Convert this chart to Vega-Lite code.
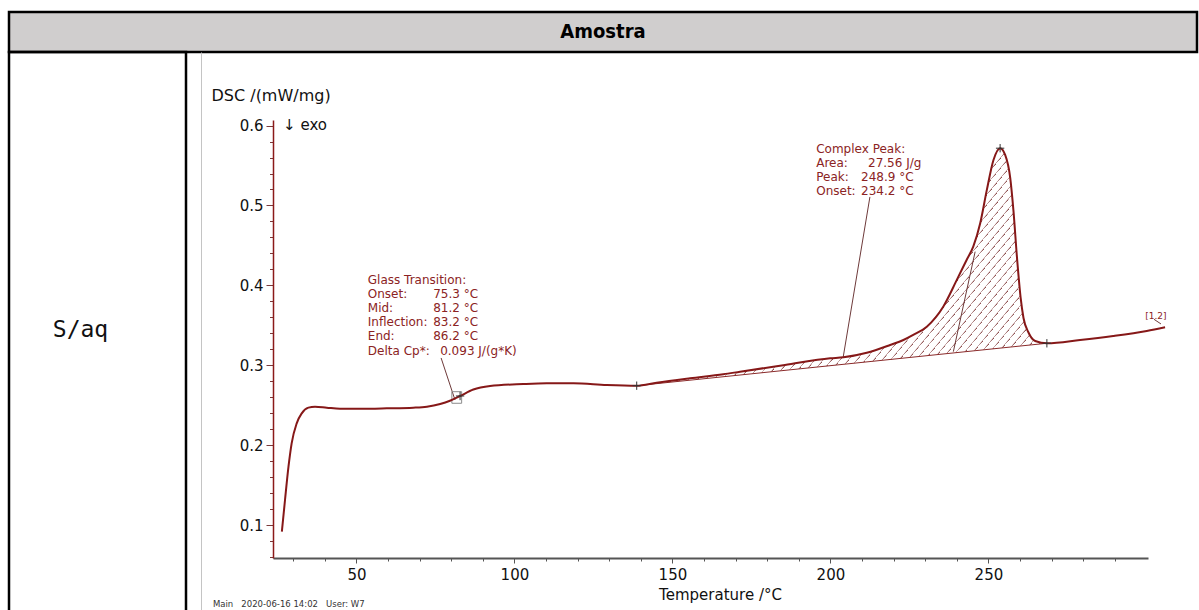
{
  "$schema": "https://vega.github.io/schema/vega-lite/v6.json",
  "padding": {"left": 7, "top": 10, "right": 0, "bottom": 0},
  "background": "white",
  "config": {
    "view": {"stroke": null},
    "font": "DejaVu Sans",
    "concat": {"spacing": 0}
  },
  "datasets": {
    "curve": [
      {"T": 26.4, "v": 0.0916}, {"T": 27.4, "v": 0.1313}, {"T": 28.5, "v": 0.173}, {"T": 29.5, "v": 0.2023},
      {"T": 31.1, "v": 0.2273}, {"T": 32.7, "v": 0.2398}, {"T": 34.8, "v": 0.2469}, {"T": 36.9, "v": 0.2481},
      {"T": 40.6, "v": 0.2469}, {"T": 44.8, "v": 0.2456}, {"T": 51.2, "v": 0.2456}, {"T": 59.6, "v": 0.2461},
      {"T": 68.0, "v": 0.2469}, {"T": 72.3, "v": 0.2481}, {"T": 76.5, "v": 0.2515}, {"T": 79.6, "v": 0.2556},
      {"T": 82.8, "v": 0.2615}, {"T": 87.0, "v": 0.2696}, {"T": 92.3, "v": 0.274}, {"T": 102.8, "v": 0.2765},
      {"T": 110.2, "v": 0.2774}, {"T": 118.7, "v": 0.2774}, {"T": 129.2, "v": 0.2753}, {"T": 138.7, "v": 0.2744},
      {"T": 145.0, "v": 0.2782}, {"T": 155.6, "v": 0.2837}, {"T": 166.1, "v": 0.2887}, {"T": 171.4, "v": 0.2919},
      {"T": 185.6, "v": 0.3003}, {"T": 199.9, "v": 0.3087}, {"T": 204.1, "v": 0.31}, {"T": 211.5, "v": 0.3157},
      {"T": 218.9, "v": 0.3254}, {"T": 223.1, "v": 0.3316}, {"T": 226.2, "v": 0.3379}, {"T": 230.5, "v": 0.3483},
      {"T": 235.7, "v": 0.3733}, {"T": 240.0, "v": 0.4068}, {"T": 243.1, "v": 0.4318}, {"T": 245.2, "v": 0.4485},
      {"T": 247.4, "v": 0.4778}, {"T": 249.5, "v": 0.5195}, {"T": 251.6, "v": 0.557}, {"T": 253.7, "v": 0.5717},
      {"T": 255.3, "v": 0.5633}, {"T": 256.9, "v": 0.5345}, {"T": 257.9, "v": 0.4944}, {"T": 259.1, "v": 0.4318},
      {"T": 260.2, "v": 0.3842}, {"T": 261.1, "v": 0.3592}, {"T": 262.6, "v": 0.3416}, {"T": 264.8, "v": 0.3304},
      {"T": 268.5, "v": 0.3275}, {"T": 279.0, "v": 0.3316}, {"T": 289.5, "v": 0.3366}, {"T": 300.1, "v": 0.3429},
      {"T": 305.9, "v": 0.3475}
    ],
    "hatch": [
      {"T": 138.7, "v": 0.2744, "base": 0.2744}, {"T": 145.0, "v": 0.2782, "base": 0.277},
      {"T": 155.6, "v": 0.2837, "base": 0.2813}, {"T": 166.1, "v": 0.2887, "base": 0.2856},
      {"T": 171.4, "v": 0.2919, "base": 0.2878}, {"T": 185.6, "v": 0.3003, "base": 0.2936},
      {"T": 199.9, "v": 0.3087, "base": 0.2994}, {"T": 204.1, "v": 0.31, "base": 0.3012},
      {"T": 211.5, "v": 0.3157, "base": 0.3042}, {"T": 218.9, "v": 0.3254, "base": 0.3072},
      {"T": 223.1, "v": 0.3316, "base": 0.3089}, {"T": 226.2, "v": 0.3379, "base": 0.3102},
      {"T": 230.5, "v": 0.3483, "base": 0.3119}, {"T": 235.7, "v": 0.3733, "base": 0.3141},
      {"T": 240.0, "v": 0.4068, "base": 0.3158}, {"T": 243.1, "v": 0.4318, "base": 0.3171},
      {"T": 245.2, "v": 0.4485, "base": 0.318}, {"T": 247.4, "v": 0.4778, "base": 0.3189},
      {"T": 249.5, "v": 0.5195, "base": 0.3197}, {"T": 251.6, "v": 0.557, "base": 0.3206},
      {"T": 253.7, "v": 0.5717, "base": 0.3214}, {"T": 255.3, "v": 0.5633, "base": 0.3221},
      {"T": 256.9, "v": 0.5345, "base": 0.3227}, {"T": 257.9, "v": 0.4944, "base": 0.3231},
      {"T": 259.1, "v": 0.4318, "base": 0.3236}, {"T": 260.2, "v": 0.3842, "base": 0.3241},
      {"T": 261.1, "v": 0.3592, "base": 0.3244}, {"T": 262.6, "v": 0.3416, "base": 0.3251},
      {"T": 264.8, "v": 0.3304, "base": 0.326}, {"T": 268.5, "v": 0.3275, "base": 0.3275}
    ],
    "baseline": [{"T": 138.7, "v": 0.2744, "T2": 268.5, "v2": 0.3275}],
    "segments": [
      {"T": 76.8, "v": 0.3091, "T2": 81.2, "v2": 0.2565},
      {"T": 212.5, "v": 0.5107, "T2": 204.0, "v2": 0.3091},
      {"T": 238.9, "v": 0.317, "T2": 245.8, "v2": 0.4422},
      {"T": 302.4, "v": 0.3575, "T2": 304.6, "v2": 0.3517}
    ],
    "box": [{"T": 80.2, "v": 0.2524, "T2": 83.3, "v2": 0.2669}],
    "markers": [
      {"T": 138.7, "v": 0.2744}, {"T": 253.7, "v": 0.5717}, {"T": 268.5, "v": 0.3275}, {"T": 82.8, "v": 0.2615}
    ],
    "annot": [
      {"T": 53.6, "v": 0.4068, "label": "Glass Transition:"},
      {"T": 53.6, "v": 0.3892, "label": "Onset:"},
      {"T": 74.3, "v": 0.3892, "label": "75.3 °C"},
      {"T": 53.6, "v": 0.3717, "label": "Mid:"},
      {"T": 74.3, "v": 0.3717, "label": "81.2 °C"},
      {"T": 53.6, "v": 0.3542, "label": "Inflection:"},
      {"T": 74.3, "v": 0.3542, "label": "83.2 °C"},
      {"T": 53.6, "v": 0.336, "label": "End:"},
      {"T": 74.3, "v": 0.336, "label": "86.2 °C"},
      {"T": 53.6, "v": 0.3179, "label": "Delta Cp*:"},
      {"T": 76.5, "v": 0.3179, "label": "0.093 J/(g*K)"},
      {"T": 195.5, "v": 0.5708, "label": "Complex Peak:"},
      {"T": 195.5, "v": 0.5533, "label": "Area:"},
      {"T": 211.9, "v": 0.5533, "label": "27.56 J/g"},
      {"T": 195.5, "v": 0.5358, "label": "Peak:"},
      {"T": 209.7, "v": 0.5358, "label": "248.9 °C"},
      {"T": 195.5, "v": 0.5183, "label": "Onset:"},
      {"T": 209.7, "v": 0.5183, "label": "234.2 °C"}
    ],
    "exo": [{"T": 26.8, "v": 0.5946, "label": "↓ exo"}],
    "tag": [{"T": 299.6, "v": 0.3617, "label": "[1.2]"}],
    "footer": [{"T": 4.6, "v": -0.0027, "label": "Main\u00a0\u00a0\u00a02020-06-16 14:02\u00a0\u00a0\u00a0User: W7"}]
  },
  "vconcat": [
    {
      "width": 1188,
      "height": 40,
      "view": {"fill": "#d0cece", "stroke": "#000000", "strokeWidth": 2.5},
      "data": {"values": [{"t": "Amostra"}]},
      "mark": {"type": "text", "font": "'Liberation Sans Narrow', 'DejaVu Sans Condensed', 'Liberation Sans', sans-serif", "fontSize": 20, "fontWeight": "bold", "color": "#000000", "baseline": "middle"},
      "encoding": {"text": {"field": "t"}}
    },
    {
      "hconcat": [
        {
          "width": 177,
          "height": 562,
          "view": {"stroke": "#000000", "strokeWidth": 2.5},
          "layer": [
            {
              "data": {"values": [{"t": "S/aq"}]},
              "mark": {"type": "text", "font": "DejaVu Sans Mono", "fontSize": 23, "color": "#111111", "baseline": "middle", "dy": -3, "dx": -17},
              "encoding": {"text": {"field": "t"}}
            },
            {
              "data": {"values": [{"k": 0}]},
              "mark": {"type": "point", "opacity": 0},
              "encoding": {
                "y": {"field": "k", "type": "quantitative", "scale": {"domain": [0, 1]},
                  "axis": {"orient": "right", "offset": 15, "domainColor": "#c4c4c4", "domainWidth": 1, "ticks": false, "labels": false, "title": null, "grid": false}}
              }
            }
          ]
        },
        {
          "vconcat": [
            {
              "width": 875,
              "height": 68,
              "data": {"values": [{"t": ""}]},
              "mark": {"type": "text", "opacity": 0},
              "encoding": {"text": {"field": "t"}}
            },
            {
              "width": 875,
              "height": 438,
              "encoding": {
                "x": {"field": "T", "type": "quantitative", "scale": {"domain": [23.6, 300.5], "nice": false, "zero": false}, "axis": null},
                "y": {"field": "v", "type": "quantitative", "scale": {"domain": [0.0587, 0.607], "nice": false, "zero": false}, "axis": null}
              },
              "layer": [
                {
                  "data": {"name": "hatch"},
                  "mark": {
                    "type": "area",
                    "opacity": 1,
                    "fill": {
                      "gradient": "linear", "x1": 1, "y1": 1, "x2": 0, "y2": 0.516,
                      "stops": [
                        {"offset": 0, "color": "#8b4a4a"}, {"offset": 0.003, "color": "#ffffff"}, {"offset": 0.0166, "color": "#ffffff"},
                        {"offset": 0.0167, "color": "#8b4a4a"}, {"offset": 0.0197, "color": "#ffffff"}, {"offset": 0.0332, "color": "#ffffff"},
                        {"offset": 0.0333, "color": "#8b4a4a"}, {"offset": 0.0363, "color": "#ffffff"}, {"offset": 0.0499, "color": "#ffffff"},
                        {"offset": 0.05, "color": "#8b4a4a"}, {"offset": 0.053, "color": "#ffffff"}, {"offset": 0.0666, "color": "#ffffff"},
                        {"offset": 0.0667, "color": "#8b4a4a"}, {"offset": 0.0697, "color": "#ffffff"}, {"offset": 0.0832, "color": "#ffffff"},
                        {"offset": 0.0833, "color": "#8b4a4a"}, {"offset": 0.0863, "color": "#ffffff"}, {"offset": 0.0999, "color": "#ffffff"},
                        {"offset": 0.1, "color": "#8b4a4a"}, {"offset": 0.103, "color": "#ffffff"}, {"offset": 0.1166, "color": "#ffffff"},
                        {"offset": 0.1167, "color": "#8b4a4a"}, {"offset": 0.1197, "color": "#ffffff"}, {"offset": 0.1332, "color": "#ffffff"},
                        {"offset": 0.1333, "color": "#8b4a4a"}, {"offset": 0.1363, "color": "#ffffff"}, {"offset": 0.1499, "color": "#ffffff"},
                        {"offset": 0.15, "color": "#8b4a4a"}, {"offset": 0.153, "color": "#ffffff"}, {"offset": 0.1666, "color": "#ffffff"},
                        {"offset": 0.1667, "color": "#8b4a4a"}, {"offset": 0.1697, "color": "#ffffff"}, {"offset": 0.1832, "color": "#ffffff"},
                        {"offset": 0.1833, "color": "#8b4a4a"}, {"offset": 0.1863, "color": "#ffffff"}, {"offset": 0.1999, "color": "#ffffff"},
                        {"offset": 0.2, "color": "#8b4a4a"}, {"offset": 0.203, "color": "#ffffff"}, {"offset": 0.2166, "color": "#ffffff"},
                        {"offset": 0.2167, "color": "#8b4a4a"}, {"offset": 0.2197, "color": "#ffffff"}, {"offset": 0.2332, "color": "#ffffff"},
                        {"offset": 0.2333, "color": "#8b4a4a"}, {"offset": 0.2363, "color": "#ffffff"}, {"offset": 0.2499, "color": "#ffffff"},
                        {"offset": 0.25, "color": "#8b4a4a"}, {"offset": 0.253, "color": "#ffffff"}, {"offset": 0.2666, "color": "#ffffff"},
                        {"offset": 0.2667, "color": "#8b4a4a"}, {"offset": 0.2697, "color": "#ffffff"}, {"offset": 0.2832, "color": "#ffffff"},
                        {"offset": 0.2833, "color": "#8b4a4a"}, {"offset": 0.2863, "color": "#ffffff"}, {"offset": 0.2999, "color": "#ffffff"},
                        {"offset": 0.3, "color": "#8b4a4a"}, {"offset": 0.303, "color": "#ffffff"}, {"offset": 0.3166, "color": "#ffffff"},
                        {"offset": 0.3167, "color": "#8b4a4a"}, {"offset": 0.3197, "color": "#ffffff"}, {"offset": 0.3332, "color": "#ffffff"},
                        {"offset": 0.3333, "color": "#8b4a4a"}, {"offset": 0.3363, "color": "#ffffff"}, {"offset": 0.3499, "color": "#ffffff"},
                        {"offset": 0.35, "color": "#8b4a4a"}, {"offset": 0.353, "color": "#ffffff"}, {"offset": 0.3666, "color": "#ffffff"},
                        {"offset": 0.3667, "color": "#8b4a4a"}, {"offset": 0.3697, "color": "#ffffff"}, {"offset": 0.3832, "color": "#ffffff"},
                        {"offset": 0.3833, "color": "#8b4a4a"}, {"offset": 0.3863, "color": "#ffffff"}, {"offset": 0.3999, "color": "#ffffff"},
                        {"offset": 0.4, "color": "#8b4a4a"}, {"offset": 0.403, "color": "#ffffff"}, {"offset": 0.4166, "color": "#ffffff"},
                        {"offset": 0.4167, "color": "#8b4a4a"}, {"offset": 0.4197, "color": "#ffffff"}, {"offset": 0.4332, "color": "#ffffff"},
                        {"offset": 0.4333, "color": "#8b4a4a"}, {"offset": 0.4363, "color": "#ffffff"}, {"offset": 0.4499, "color": "#ffffff"},
                        {"offset": 0.45, "color": "#8b4a4a"}, {"offset": 0.453, "color": "#ffffff"}, {"offset": 0.4666, "color": "#ffffff"},
                        {"offset": 0.4667, "color": "#8b4a4a"}, {"offset": 0.4697, "color": "#ffffff"}, {"offset": 0.4832, "color": "#ffffff"},
                        {"offset": 0.4833, "color": "#8b4a4a"}, {"offset": 0.4863, "color": "#ffffff"}, {"offset": 0.4999, "color": "#ffffff"},
                        {"offset": 0.5, "color": "#8b4a4a"}, {"offset": 0.503, "color": "#ffffff"}, {"offset": 0.5166, "color": "#ffffff"},
                        {"offset": 0.5167, "color": "#8b4a4a"}, {"offset": 0.5197, "color": "#ffffff"}, {"offset": 0.5332, "color": "#ffffff"},
                        {"offset": 0.5333, "color": "#8b4a4a"}, {"offset": 0.5363, "color": "#ffffff"}, {"offset": 0.5499, "color": "#ffffff"},
                        {"offset": 0.55, "color": "#8b4a4a"}, {"offset": 0.553, "color": "#ffffff"}, {"offset": 0.5666, "color": "#ffffff"},
                        {"offset": 0.5667, "color": "#8b4a4a"}, {"offset": 0.5697, "color": "#ffffff"}, {"offset": 0.5832, "color": "#ffffff"},
                        {"offset": 0.5833, "color": "#8b4a4a"}, {"offset": 0.5863, "color": "#ffffff"}, {"offset": 0.5999, "color": "#ffffff"},
                        {"offset": 0.6, "color": "#8b4a4a"}, {"offset": 0.603, "color": "#ffffff"}, {"offset": 0.6166, "color": "#ffffff"},
                        {"offset": 0.6167, "color": "#8b4a4a"}, {"offset": 0.6197, "color": "#ffffff"}, {"offset": 0.6332, "color": "#ffffff"},
                        {"offset": 0.6333, "color": "#8b4a4a"}, {"offset": 0.6363, "color": "#ffffff"}, {"offset": 0.6499, "color": "#ffffff"},
                        {"offset": 0.65, "color": "#8b4a4a"}, {"offset": 0.653, "color": "#ffffff"}, {"offset": 0.6666, "color": "#ffffff"},
                        {"offset": 0.6667, "color": "#8b4a4a"}, {"offset": 0.6697, "color": "#ffffff"}, {"offset": 0.6832, "color": "#ffffff"},
                        {"offset": 0.6833, "color": "#8b4a4a"}, {"offset": 0.6863, "color": "#ffffff"}, {"offset": 0.6999, "color": "#ffffff"},
                        {"offset": 0.7, "color": "#8b4a4a"}, {"offset": 0.703, "color": "#ffffff"}, {"offset": 0.7166, "color": "#ffffff"},
                        {"offset": 0.7167, "color": "#8b4a4a"}, {"offset": 0.7197, "color": "#ffffff"}, {"offset": 0.7332, "color": "#ffffff"},
                        {"offset": 0.7333, "color": "#8b4a4a"}, {"offset": 0.7363, "color": "#ffffff"}, {"offset": 0.7499, "color": "#ffffff"},
                        {"offset": 0.75, "color": "#8b4a4a"}, {"offset": 0.753, "color": "#ffffff"}, {"offset": 0.7666, "color": "#ffffff"},
                        {"offset": 0.7667, "color": "#8b4a4a"}, {"offset": 0.7697, "color": "#ffffff"}, {"offset": 0.7832, "color": "#ffffff"},
                        {"offset": 0.7833, "color": "#8b4a4a"}, {"offset": 0.7863, "color": "#ffffff"}, {"offset": 0.7999, "color": "#ffffff"},
                        {"offset": 0.8, "color": "#8b4a4a"}, {"offset": 0.803, "color": "#ffffff"}, {"offset": 0.8166, "color": "#ffffff"},
                        {"offset": 0.8167, "color": "#8b4a4a"}, {"offset": 0.8197, "color": "#ffffff"}, {"offset": 0.8332, "color": "#ffffff"},
                        {"offset": 0.8333, "color": "#8b4a4a"}, {"offset": 0.8363, "color": "#ffffff"}, {"offset": 0.8499, "color": "#ffffff"},
                        {"offset": 0.85, "color": "#8b4a4a"}, {"offset": 0.853, "color": "#ffffff"}, {"offset": 0.8666, "color": "#ffffff"},
                        {"offset": 0.8667, "color": "#8b4a4a"}, {"offset": 0.8697, "color": "#ffffff"}, {"offset": 0.8832, "color": "#ffffff"},
                        {"offset": 0.8833, "color": "#8b4a4a"}, {"offset": 0.8863, "color": "#ffffff"}, {"offset": 0.8999, "color": "#ffffff"},
                        {"offset": 0.9, "color": "#8b4a4a"}, {"offset": 0.903, "color": "#ffffff"}, {"offset": 0.9166, "color": "#ffffff"},
                        {"offset": 0.9167, "color": "#8b4a4a"}, {"offset": 0.9197, "color": "#ffffff"}, {"offset": 0.9332, "color": "#ffffff"},
                        {"offset": 0.9333, "color": "#8b4a4a"}, {"offset": 0.9363, "color": "#ffffff"}, {"offset": 0.9499, "color": "#ffffff"},
                        {"offset": 0.95, "color": "#8b4a4a"}, {"offset": 0.953, "color": "#ffffff"}, {"offset": 0.9666, "color": "#ffffff"},
                        {"offset": 0.9667, "color": "#8b4a4a"}, {"offset": 0.9697, "color": "#ffffff"}, {"offset": 0.9832, "color": "#ffffff"},
                        {"offset": 0.9833, "color": "#8b4a4a"}, {"offset": 0.9863, "color": "#ffffff"}, {"offset": 0.9999, "color": "#ffffff"},
                        {"offset": 1, "color": "#8b4a4a"}
                      ]
                    }
                  },
                  "encoding": {"y2": {"field": "base"}}
                },
                {
                  "data": {"name": "baseline"},
                  "mark": {"type": "rule", "color": "#8a2a2a", "strokeWidth": 1},
                  "encoding": {
                    "x": {"field": "T", "type": "quantitative", "scale": {"domain": [23.6, 300.5], "nice": false, "zero": false},
                      "axis": {"orient": "bottom", "values": [30, 40, 60, 70, 80, 90, 110, 120, 130, 140, 160, 170, 180, 190, 210, 220, 230, 240, 260, 270, 280, 290], "domain": false, "labels": false, "title": null, "grid": false, "tickSize": 3, "tickColor": "#555555", "tickWidth": 1}},
                    "y": {"field": "v", "type": "quantitative", "scale": {"domain": [0.0587, 0.607], "nice": false, "zero": false},
                      "axis": {"orient": "left", "values": [0.06, 0.08, 0.12, 0.14, 0.16, 0.18, 0.22, 0.24, 0.26, 0.28, 0.32, 0.34, 0.36, 0.38, 0.42, 0.44, 0.46, 0.48, 0.52, 0.54, 0.56, 0.58], "domain": false, "labels": false, "title": null, "grid": false, "tickSize": 3.5, "tickColor": "#7a3a3a", "tickWidth": 1}},
                    "x2": {"field": "T2"},
                    "y2": {"field": "v2"}
                  }
                },
                {
                  "data": {"name": "segments"},
                  "mark": {"type": "rule", "color": "#6e3a3a", "strokeWidth": 1},
                  "encoding": {"x2": {"field": "T2"}, "y2": {"field": "v2"}}
                },
                {
                  "data": {"name": "box"},
                  "mark": {"type": "rect", "filled": false, "stroke": "#8c8c8c", "strokeWidth": 1},
                  "encoding": {"x2": {"field": "T2"}, "y2": {"field": "v2"}}
                },
                {
                  "data": {"name": "curve"},
                  "mark": {"type": "line", "color": "#861818", "strokeWidth": 2, "interpolate": "monotone"},
                  "encoding": {
                    "x": {"field": "T", "type": "quantitative", "scale": {"domain": [23.6, 300.5], "nice": false, "zero": false},
                      "axis": {"orient": "bottom", "values": [50, 100, 150, 200, 250], "title": "Temperature /°C", "grid": false,
                        "domainColor": "#555555", "domainWidth": 2, "tickColor": "#555555", "tickSize": 5, "tickWidth": 1,
                        "labelFont": "DejaVu Sans", "labelFontSize": 15, "labelColor": "#111111", "labelPadding": 4, "labelFlush": false,
                        "titleFont": "DejaVu Sans", "titleFontSize": 15, "titleFontWeight": "normal", "titleColor": "#111111",
                        "titleX": 447, "titleY": 41, "titleAlign": "center", "titleBaseline": "alphabetic"}},
                    "y": {"field": "v", "type": "quantitative", "scale": {"domain": [0.0587, 0.607], "nice": false, "zero": false},
                      "axis": {"orient": "left", "values": [0.1, 0.2, 0.3, 0.4, 0.5, 0.6], "format": ".1f", "title": "DSC /(mW/mg)", "grid": false,
                        "domainColor": "#8b1a1a", "domainWidth": 1.5, "tickColor": "#7a3a3a", "tickSize": 7, "tickWidth": 1,
                        "labelFont": "DejaVu Sans", "labelFontSize": 15, "labelColor": "#111111", "labelPadding": 3,
                        "titleFont": "DejaVu Sans", "titleFontSize": 16, "titleFontWeight": "normal", "titleColor": "#111111",
                        "titleAngle": 0, "titleX": -62, "titleY": -20, "titleAlign": "left", "titleBaseline": "alphabetic"}}
                  }
                },
                {
                  "data": {"name": "markers"},
                  "mark": {"type": "point", "shape": "M-1,0L1,0M0,-1L0,1", "size": 70, "filled": false, "color": "#333333", "strokeWidth": 1, "opacity": 1}
                },
                {
                  "data": {"name": "annot"},
                  "mark": {"type": "text", "font": "DejaVu Sans", "fontSize": 12, "color": "#8b2323", "align": "left", "baseline": "middle"},
                  "encoding": {"text": {"field": "label"}}
                },
                {
                  "data": {"name": "exo"},
                  "mark": {"type": "text", "font": "DejaVu Sans", "fontSize": 15, "color": "#111111", "align": "left", "baseline": "alphabetic"},
                  "encoding": {"text": {"field": "label"}}
                },
                {
                  "data": {"name": "tag"},
                  "mark": {"type": "text", "font": "DejaVu Sans", "fontSize": 9, "color": "#8b2323", "align": "left", "baseline": "middle"},
                  "encoding": {"text": {"field": "label"}}
                },
                {
                  "data": {"name": "footer"},
                  "mark": {"type": "text", "font": "DejaVu Sans", "fontSize": 8.5, "color": "#333333", "align": "left", "baseline": "alphabetic"},
                  "encoding": {"text": {"field": "label"}}
                }
              ],
              "resolve": {"axis": {"x": "independent", "y": "independent"}}
            }
          ],
          "spacing": 0,
          "bounds": "flush"
        }
      ],
      "spacing": 87,
      "bounds": "flush"
    }
  ],
  "spacing": 0,
  "bounds": "flush"
}
